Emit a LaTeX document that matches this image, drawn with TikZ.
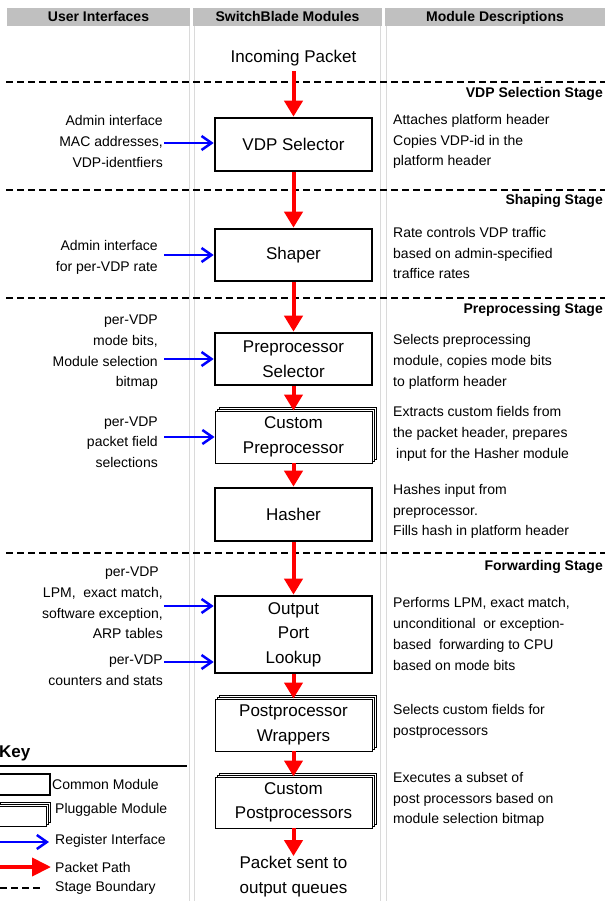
\documentclass[tikz,border=0pt]{standalone}
\usepackage{fontspec}
\setmainfont{Liberation Sans}
\usetikzlibrary{arrows.meta,shadows}
\definecolor{headgray}{RGB}{192,192,192}
\definecolor{colgray}{RGB}{218,218,218}
\tikzset{%
  % Specifications for style of nodes:
       module/.style = {rectangle, draw=black, fill=white, minimum width=157pt,
                        minimum height=52pt, align=center, inner sep=0pt,
                        font=\fontsize{17}{24.5}\selectfont},
       common/.style = {module, line width=2.6pt},
    pluggable/.style = {module, line width=0.9pt,
                        general shadow={shadow xshift=4pt, shadow yshift=4pt,
                                        fill=white, draw=black, line width=0.9pt},
                        general shadow={shadow xshift=2pt, shadow yshift=2pt,
                                        fill=white, draw=black, line width=0.9pt}},
        small/.style = {inner sep=0pt, font=\fontsize{14}{20.7}\selectfont},
        iface/.style = {small, align=right, anchor=east},
         desc/.style = {small, align=left, anchor=west},
        stage/.style = {small, anchor=east, font=\bfseries\fontsize{14}{16}\selectfont},
       header/.style = {fill=headgray, minimum height=18pt, inner sep=0pt,
                        text height=11pt, text depth=2pt,
                        font=\bfseries\fontsize{14}{16}\selectfont},
  % Specifications for style of lines:
       packet/.style = {draw=red, line width=4pt, -{Triangle[width=18pt,length=16pt]}},
     register/.style = {draw=blue, line width=2.5pt,
                        -{Straight Barb[width=14pt,length=10pt,line width=2.5pt]}},
     boundary/.style = {draw=black, line width=2.4pt, dash pattern=on 6.5pt off 4.5pt}
}

\begin{document}
\begin{tikzpicture}[x=1pt, y=-1pt]
  \useasboundingbox (0,0) rectangle (605,901);

  % Column headers and column borders
  \node (uihead)   [header, minimum width=183pt] at (98.5,17) {User Interfaces};
  \node (modhead)  [header, minimum width=189pt] at (287.5,17) {SwitchBlade Modules};
  \node (deschead) [header, minimum width=220pt] at (495,17) {Module Descriptions};
  \draw[colgray, line width=1pt] (189,26) -- (189,901);
  \draw[colgray, line width=1pt] (194,26) -- (194,901);
  \draw[colgray, line width=1pt] (380,26) -- (380,901);
  \draw[colgray, line width=1pt] (386,26) -- (386,901);

  % Stage boundaries
  \draw[boundary] (6,82) -- (605,82);
  \draw[boundary] (6,190) -- (605,190);
  \draw[boundary] (6,298) -- (605,298);
  \draw[boundary] (6,553) -- (605,553);
  \node (vdpstage)  [stage] at (603,94)  {VDP Selection Stage};
  \node (shapstage) [stage] at (603,201) {Shaping Stage};
  \node (prestage)  [stage] at (603,310) {Preprocessing Stage};
  \node (fwdstage)  [stage] at (603,567) {Forwarding Stage};

  % Specification of nodes (position, etc.)
  \node (incoming) [font=\fontsize{17}{24.5}\selectfont, inner sep=0pt] at (293.5,58) {Incoming Packet};
  \node (vdpsel)   [common, minimum height=53pt] at (293.5,144.5) {VDP Selector};
  \node (shaper)   [common] at (293.5,255) {Shaper};
  \node (presel)   [common] at (293.5,359) {Preprocessor\\Selector};
  \node (custpre)  [pluggable] at (293.5,437) {Custom\\Preprocessor};
  \node (hasher)   [common, minimum height=53pt] at (293.5,514.5) {Hasher};
  \node (oplookup) [common, minimum height=77pt] at (293.5,634.5) {Output\\Port\\Lookup};
  \node (postwrap) [pluggable] at (293.5,725) {Postprocessor\\Wrappers};
  \node (custpost) [pluggable, minimum height=51pt] at (293.5,802.5) {Custom\\Postprocessors};
  \node (sent)     [font=\fontsize{17}{24.5}\selectfont, align=center, inner sep=0pt] at (293.5,876.5) {Packet sent to\\output queues};

  % User interfaces
  \node (vdpui)    [iface] at (163,141.5) {Admin interface\\MAC addresses,\\VDP-identfiers};
  \node (shapui)   [iface] at (158,257.5) {Admin interface\\for per-VDP rate};
  \node (preselui) [iface] at (158,352.5) {per-VDP\\mode bits,\\Module selection\\bitmap};
  \node (custui)   [iface] at (158,442) {per-VDP\\packet field\\selections};
  \node (lookupui) [iface] at (163,603) {per-VDP\hspace*{4pt}\\LPM,~ exact match,\\software exception,\hspace*{3pt}\\ARP tables};
  \node (statsui)  [iface] at (163,670.5) {per-VDP\\counters and stats};

  % Module descriptions
  \node (vdpdesc)    [desc] at (393,141.5) {Attaches platform header\\Copies VDP-id in the\\platform header};
  \node (shapdesc)   [desc] at (393,253) {Rate controls VDP traffic\\based on admin-specified\\traffice rates};
  \node (preseldesc) [desc] at (393,362) {Selects preprocessing\\module, copies mode bits\\to platform header};
  \node (custdesc)   [desc] at (393,434) {Extracts custom fields from\\the packet header, prepares\\\hspace*{3pt}input for the Hasher module};
  \node (hashdesc)   [desc] at (393,511.5) {Hashes input from\\preprocessor.\\Fills hash in platform header};
  \node (lookdesc)   [desc] at (393,634) {Performs LPM, exact match,\\unconditional~ or exception-\\based~ forwarding to CPU\\based on mode bits};
  \node (wrapdesc)   [desc] at (393,721.5) {Selects custom fields for\\postprocessors};
  \node (postdesc)   [desc] at (393,799.5) {Executes a subset of\\post processors based on\\module selection bitmap};

  % Specification of lines between nodes specified above
  \draw[packet] (incoming.south) ++(0,5) -- (vdpsel.north);
  \draw[packet] (vdpsel) -- (shaper);
  \draw[packet] (shaper) -- (presel);
  \draw[packet] (presel) -- (custpre);
  \draw[packet] (custpre) -- (hasher);
  \draw[packet] (hasher) -- (oplookup);
  \draw[packet] (oplookup) -- (postwrap);
  \draw[packet] (postwrap) -- (custpost);
  \draw[packet] (custpost) -- (sent);

  \coordinate (vdpin)    at (164,143);
  \coordinate (shapin)   at (164,255);
  \coordinate (preselin) at (164,359);
  \coordinate (custin)   at (164,437);
  \coordinate (lookin)   at (164,606);
  \coordinate (statsin)  at (164,662);
  \draw[register] (vdpin) -- (vdpin -| vdpsel.west);
  \draw[register] (shapin) -- (shapin -| shaper.west);
  \draw[register] (preselin) -- (preselin -| presel.west);
  \draw[register] (custin) -- (custin -| custpre.west);
  \draw[register] (lookin) -- (lookin -| oplookup.west);
  \draw[register] (statsin) -- (statsin -| oplookup.west);

  % Key
  \node (key) [anchor=west, inner sep=0pt, font=\bfseries\fontsize{17}{20}\selectfont] at (-1,753) {Key};
  \draw[line width=1.2pt] (0,766) -- (187,766);
  \node (keycommon) [common, minimum width=54pt, minimum height=21pt] at (23,784.5) {};
  \node (keyplug)   [pluggable, minimum width=50pt, minimum height=20pt] at (21,816) {};
  \node (commonlbl) [desc] at (52,784) {Common Module};
  \node (pluglbl)   [desc] at (55,810) {Pluggable Module};
  \node (reglbl)    [desc] at (55,841) {Register Interface};
  \node (pathlbl)   [desc] at (55,867) {Packet Path};
  \node (stagelbl)  [desc] at (55,888) {Stage Boundary};
  \coordinate (keyreg)  at (-2,842);
  \coordinate (keypath) at (-2,867);
  \coordinate (keybnd)  at (0,888);
  \draw[register] (keyreg) -- ++(51,0);
  \draw[packet, -{Triangle[width=18pt,length=19pt]}] (keypath) -- ++(53,0);
  \draw[boundary] (keybnd) -- ++(43,0);
\end{tikzpicture}
\end{document}
